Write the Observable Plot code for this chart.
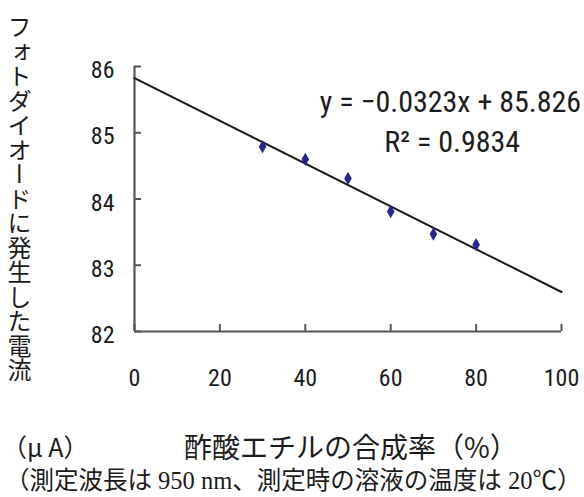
<!DOCTYPE html>
<html>
<head>
<meta charset="utf-8">
<script src="https://cdn.jsdelivr.net/npm/d3@7"></script>
<script src="https://cdn.jsdelivr.net/npm/@observablehq/plot@0.6"></script>
<style>
  html, body { margin: 0; padding: 0; background: #fff; }
  #chart { position: relative; width: 584px; height: 497px; overflow: hidden; }
  #chart svg { position: absolute; left: 0; top: 0; }
  .lbl { position: absolute; color: #1c1c1c; font-family: "Noto Sans CJK JP", sans-serif; white-space: nowrap; line-height: 1; }
  #ytitle { left: 7px; top: 15px; font-size: 24px; writing-mode: vertical-rl; letter-spacing: 0.5px; }
  #unit { left: 2px; top: 434px; font-size: 25px; }
  #xtitle { left: 184px; top: 432px; font-size: 28px; }
  #caption { left: 5px; top: 469px; font-size: 24.5px; font-family: "Liberation Serif", "Noto Sans CJK JP", serif; }
</style>
</head>
<body>
<div id="chart"></div>
<script>
// Ethyl acetate synthesis rate (%) vs. photodiode current (µA)
const rate = [30, 40, 50, 60, 70, 80];
const current = [84.79, 84.60, 84.31, 83.81, 83.47, 83.31];

// Linear fit stated on the chart
const slope = -0.0323;
const intercept = 85.826;
const r2 = 0.9834;

const xTicks = [0, 20, 40, 60, 80, 100];
const yTicks = [82, 83, 84, 85, 86];

const points = rate.map((x, i) => ({x, y: current[i]}));
const fitLine = [0, 100].map(x => ({x, y: slope * x + intercept}));

const numFont = '"Liberation Sans Narrow", "Arial Narrow", "Roboto Condensed", Roboto, sans-serif';
const axisColor = "#555";

const W = 584, H = 497;
const margin = {left: 134, right: 23, top: 66, bottom: 166};
const xDomain = [xTicks[0], xTicks[xTicks.length - 1]];
const yDomain = [yTicks[0], yTicks[yTicks.length - 1]];

// inward tick length (7px) expressed in each scale's units
const tickPx = 7;
const xTickLen = tickPx * (xDomain[1] - xDomain[0]) / (W - margin.left - margin.right);
const yTickLen = tickPx * (yDomain[1] - yDomain[0]) / (H - margin.top - margin.bottom);

const plot = Plot.plot({
  width: W,
  height: H,
  marginLeft: margin.left,
  marginRight: margin.right,
  marginTop: margin.top,
  marginBottom: margin.bottom,
  style: {background: "transparent", color: "#1c1c1c", fontFamily: numFont},
  x: {domain: xDomain},
  y: {domain: yDomain},
  marks: [
    // tick labels
    Plot.axisX({ticks: xTicks, tickSize: 0, tickPadding: 37, label: null, fontSize: 24, tickFormat: "d"}),
    Plot.axisY({ticks: yTicks, tickSize: 0, tickPadding: 20, label: null, fontSize: 24, dy: 4, tickFormat: "d"}),
    // inward tick marks
    Plot.ruleX(xTicks, {x: d => d, y1: yDomain[0], y2: yDomain[0] + yTickLen, stroke: axisColor, strokeWidth: 2}),
    Plot.ruleY(yTicks, {y: d => d, x1: xDomain[0], x2: xDomain[0] + xTickLen, stroke: axisColor, strokeWidth: 2}),
    // axis lines
    Plot.ruleY([yDomain[0]], {stroke: axisColor, strokeWidth: 2.2}),
    Plot.ruleX([xDomain[0]], {stroke: axisColor, strokeWidth: 2.2}),
    Plot.line(fitLine, {x: "x", y: "y", stroke: "#1a1a1a", strokeWidth: 2}),
    Plot.dot(points, {x: "x", y: "y", symbol: "diamond", r: 4, fill: "#26268f", stroke: "none"}),
    Plot.text([`y = \u22120${String(-slope).slice(1)}x + ${intercept}`], {x: 74, y: 85.46, text: d => d, fontSize: 30, fill: "#1c1c1c"}),
    Plot.text([`R\u00b2 = ${r2}`], {x: 74.4, y: 84.85, text: d => d, fontSize: 30, fill: "#1c1c1c"})
  ]
});

const chart = document.getElementById("chart");
chart.appendChild(plot);

const addLabel = (id, text) => {
  const el = document.createElement("div");
  el.id = id;
  el.className = "lbl";
  el.textContent = text;
  chart.appendChild(el);
};
addLabel("ytitle", "フォトダイオードに発生した電流");
addLabel("unit", "（μ A）");
addLabel("xtitle", "酢酸エチルの合成率（%）");
addLabel("caption", "（測定波長は 950 nm、測定時の溶液の温度は 20℃）");
</script>
</body>
</html>
